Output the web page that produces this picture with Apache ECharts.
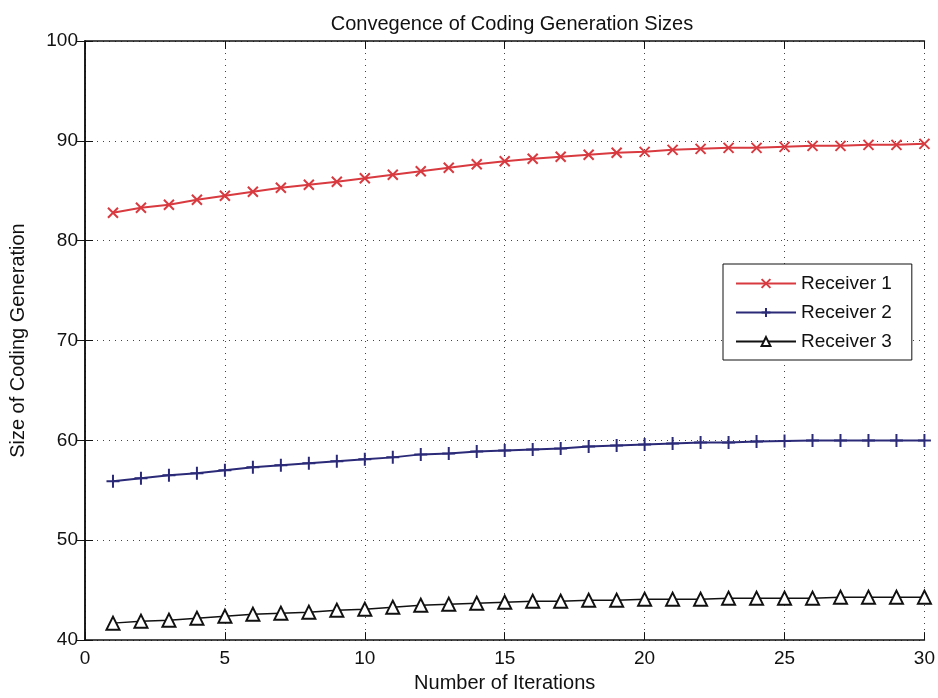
<!DOCTYPE html>
<html><head><meta charset="utf-8">
<script src="https://cdn.jsdelivr.net/npm/echarts@6/dist/echarts.min.js"></script>
<style>html,body{margin:0;padding:0;background:#fff}#c{width:938px;height:698px}</style>
</head><body><div id="c"></div>
<script>
const iterations = [1,2,3,4,5,6,7,8,9,10,11,12,13,14,15,16,17,18,19,20,21,22,23,24,25,26,27,28,29,30];
const receiver1 = [82.8,83.3,83.6,84.1,84.5,84.9,85.3,85.6,85.9,86.25,86.6,86.95,87.3,87.65,87.96,88.2,88.4,88.6,88.8,88.9,89.1,89.2,89.3,89.3,89.4,89.5,89.5,89.6,89.6,89.7];
const receiver2 = [55.9,56.2,56.5,56.7,57.0,57.3,57.5,57.7,57.9,58.1,58.3,58.6,58.7,58.9,59.0,59.1,59.2,59.4,59.5,59.6,59.7,59.8,59.8,59.9,59.95,60.0,60.0,60.0,60.0,60.0];
const receiver3 = [41.7,41.9,42.0,42.2,42.4,42.6,42.7,42.8,43.0,43.1,43.3,43.5,43.6,43.7,43.8,43.9,43.9,44.0,44.0,44.1,44.1,44.1,44.2,44.2,44.2,44.2,44.3,44.3,44.3,44.3];
const seriesNames = ['Receiver 1','Receiver 2','Receiver 3'];
const titleText = 'Convegence of Coding Generation Sizes';
const xName = 'Number of Iterations';
const yName = 'Size of Coding Generation';

const font = 'Liberation Sans, Arial, sans-serif';
const pair = arr => arr.map((v,i)=>[iterations[i], v]);
const gridLine = {show:true, lineStyle:{color:'#444', width:1, type:[1,5]}};

const chart = echarts.init(document.getElementById('c'), null, {renderer:'canvas'});
chart.setOption({
  animation:false,
  backgroundColor:'#fff',
  title:{text:titleText, left:507, top:9, textAlign:'center',
    textStyle:{fontFamily:font, fontSize:20, fontWeight:'normal', color:'#111'}},
  grid:{left:81, top:41, right:10, bottom:57, show:false},
  legend:{
    data:seriesNames, orient:'vertical', left:723, top:264,
    backgroundColor:'#fff', borderColor:'#111', borderWidth:1,
    padding:[10,20,9,12], itemGap:10, itemWidth:60, itemHeight:11,
    textStyle:{fontFamily:font, fontSize:19, color:'#111'}
  },
  xAxis:[{
    type:'value', min:0, max:30, interval:5,
    name:xName, nameLocation:'middle', nameGap:32,
    nameTextStyle:{fontFamily:font, fontSize:20, color:'#111'},
    axisLine:{show:true, lineStyle:{color:'#111', width:1.5}},
    axisTick:{show:true, inside:true, length:8, lineStyle:{color:'#111'}},
    axisLabel:{fontFamily:font, fontSize:19, color:'#111', margin:9},
    splitLine:gridLine
  },{
    type:'value', min:0, max:30, interval:5, position:'top',
    axisLine:{show:true, lineStyle:{color:'#111', width:1.5}},
    axisTick:{show:true, inside:true, length:8, lineStyle:{color:'#111'}},
    axisLabel:{show:false}, splitLine:{show:false}
  }],
  yAxis:[{
    type:'value', min:40, max:100, interval:10,
    name:yName, nameLocation:'middle', nameGap:57,
    nameTextStyle:{fontFamily:font, fontSize:20, color:'#111'},
    axisLine:{show:true, lineStyle:{color:'#111', width:1.5}},
    axisTick:{show:true, inside:true, length:8, lineStyle:{color:'#111'}},
    axisLabel:{fontFamily:font, fontSize:19, color:'#111', margin:7},
    splitLine:gridLine
  },{
    type:'value', min:40, max:100, interval:10, position:'right',
    axisLine:{show:true, lineStyle:{color:'#111', width:1.5}},
    axisTick:{show:true, inside:true, length:8, lineStyle:{color:'#111'}},
    axisLabel:{show:false}, splitLine:{show:false}
  }],
  series:[
    {name:seriesNames[0], type:'line', data:pair(receiver1),
     symbol:'path://M0,0L10,10M10,0L0,10', symbolSize:10,
     lineStyle:{color:'#d83a40', width:2},
     itemStyle:{color:'#d83a40', borderColor:'#d83a40', borderWidth:2}},
    {name:seriesNames[1], type:'line', data:pair(receiver2),
     symbol:'path://M5,0L5,10M0,5L10,5', symbolSize:13,
     lineStyle:{color:'#2b2a78', width:2},
     itemStyle:{color:'#2b2a78', borderColor:'#2b2a78', borderWidth:2}},
    {name:seriesNames[2], type:'line', data:pair(receiver3),
     symbol:'emptyTriangle', symbolSize:13,
     lineStyle:{color:'#111', width:1.5},
     itemStyle:{color:'#111', borderColor:'#111', borderWidth:1.5}}
  ]
});
</script></body></html>
